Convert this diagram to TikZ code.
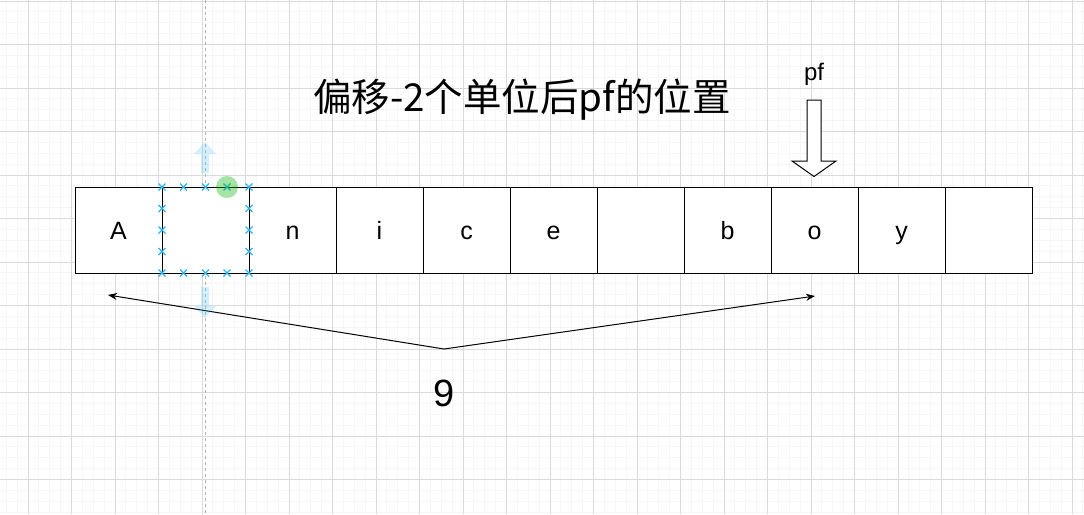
\documentclass[tikz,border=0pt]{standalone}
\usepackage{fontspec}
\setmainfont{Liberation Sans}
\newfontfamily\cjk{Noto Sans CJK SC}
\usetikzlibrary{arrows.meta}
\definecolor{selblue}{HTML}{29B6F2}
\definecolor{gridmajor}{HTML}{DADADA}
\definecolor{gridminor}{HTML}{F6F6F6}
\tikzset{
  cellbox/.style={draw, fill=white, line width=1pt, minimum width=87pt, minimum height=86pt,
    inner sep=0pt, text height=18pt, text depth=0pt, font=\fontsize{25}{25}\selectfont},
  selcross/.style={draw=selblue, line width=1.2pt},
  handle/.style={fill=selblue, opacity=0.2, draw=none}
}
\newcommand{\selx}[2]{\draw[selcross] (#1-3.5,#2-3.5) -- (#1+3.5,#2+3.5) (#1-3.5,#2+3.5) -- (#1+3.5,#2-3.5);}
\begin{document}
\begin{tikzpicture}[x=1pt,y=-1pt]
  % canvas and grid
  \fill[white] (0,0) rectangle (1084,514);
  \useasboundingbox (0,0) rectangle (1084,514);
  \begin{scope}
    \clip (0,0) rectangle (1084,514);
    \foreach \k in {0,...,101} \draw[gridminor, line width=1pt] ({-15.5+10.875*\k},0) -- ++(0,514);
    \foreach \k in {0,...,52} \draw[gridminor, line width=1pt] (0,{-42.5+10.875*\k}) -- ++(1084,0);
    \foreach \k in {0,...,25} \draw[gridmajor, line width=1pt] ({-15.5+43.5*\k},0) -- ++(0,514);
    \foreach \k in {0,...,12} \draw[gridmajor, line width=1pt] (0,{1+43.5*\k}) -- ++(1084,0);
  \end{scope}
  \draw[black!30, line width=1pt, dash pattern=on 3pt off 3pt] (205,0) -- (205,514);

  % the string cells
  \foreach \ch [count=\i] in {A,{},n,i,c,e,{},b,o,y,{}}
    \node[cellbox] (c\i) at ({118.5+87*(\i-1)},230) {\ch};

  % title and pointer
  \node[font=\cjk\fontsize{38.5}{38.5}\selectfont] (title) at (522,100) {偏移-2个单位后pf的位置};
  \node[font=\fontsize{24}{24}\selectfont] (pf) at (814,74) {pf};
  \draw[line width=1pt, fill=white] (807,100) -- (821,100) -- (821,161) -- (836,161)
    -- (814,176.5) -- (792,161) -- (807,161) -- cycle;

  % length marker
  \coordinate (lend) at (108,295);
  \coordinate (rend) at (815,296);
  \coordinate (vtx) at (444,349);
  \node[font=\fontsize{38}{38}\selectfont] (len) at (444,393) {9};
  \draw[line width=1pt, {Stealth[length=9pt,width=7pt]}-{Stealth[length=9pt,width=7pt]}]
    (lend) -- (vtx) -- (rend);

  % selection handles
  \fill[handle] (201,173) -- (201,154) -- (194,154) -- (205,142) -- (216,154) -- (209,154) -- (209,173) -- cycle;
  \fill[handle] (201,287) -- (201,306) -- (194,306) -- (205,318) -- (216,306) -- (209,306) -- (209,287) -- cycle;
  \foreach \px in {162,183.5,205.5,227,249} {\selx{\px}{187} \selx{\px}{273}}
  \foreach \py in {208.5,230,251.5} {\selx{162}{\py} \selx{249}{\py}}
  \fill[green!70!black, opacity=0.35] (227,187) circle (11);
\end{tikzpicture}
\end{document}
